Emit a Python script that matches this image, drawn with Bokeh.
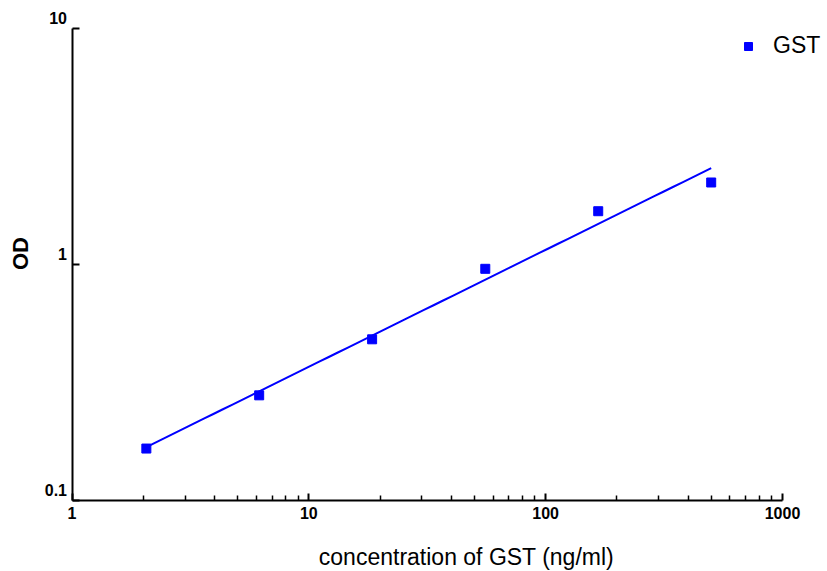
import numpy as np
from bokeh.plotting import figure
from bokeh.models import (FixedTicker, Legend, LegendItem, Label, LabelSet,
                          ColumnDataSource, Range1d, BasicTickFormatter)
from bokeh.embed import file_html
from bokeh.resources import INLINE
from bokeh.core.properties import value

# ---- data ----
conc = [2.06, 6.17, 18.5, 55.6, 166.7, 500.0]
od = [0.166, 0.279, 0.482, 0.959, 1.682, 2.226]
x_ticks = [1, 10, 100, 1000]
x_tick_labels = ["1", "10", "100", "1000"]
y_ticks = [0.1, 1, 10]
y_tick_labels = ["0.1", "1", "10"]
series_name = "GST"
x_title = "concentration of GST (ng/ml)"
y_title = "OD"

FONT = "Liberation Sans"
BLUE = "#0000ff"

# the frame fills the canvas; the axes sit at fixed data locations
p = figure(width=827, height=571, x_axis_type="log", y_axis_type="log",
           x_range=Range1d(0.4989, 1549.0),
           y_range=Range1d(0.05002, 13.144),
           output_backend="svg", toolbar_location=None,
           min_border_left=0, min_border_right=0,
           min_border_top=0, min_border_bottom=0)
p.xgrid.visible = False
p.ygrid.visible = False
p.outline_line_color = None
p.background_fill_color = "white"
p.border_fill_color = "white"

x_minor = [m * t for t in x_ticks[:-1] for m in range(2, 10)]
p.xaxis.ticker = FixedTicker(ticks=x_ticks, minor_ticks=x_minor)
p.xaxis.formatter = BasicTickFormatter()
p.xaxis.major_label_overrides = {t: s for t, s in zip(x_ticks, x_tick_labels)}
p.xaxis.fixed_location = y_ticks[0]
p.xaxis.bounds = (x_ticks[0], x_ticks[-1])

p.yaxis.ticker = FixedTicker(ticks=y_ticks, minor_ticks=[])
p.yaxis.major_label_overrides = {t: "" for t in y_ticks}
p.yaxis.fixed_location = x_ticks[0]
p.yaxis.bounds = (y_ticks[0], y_ticks[-1])

for ax in (p.xaxis, p.yaxis):
    ax.axis_line_width = 2
    ax.axis_line_color = "black"
    ax.major_tick_line_width = 2
    ax.major_tick_line_color = "black"
    ax.minor_tick_line_width = 1.5
    ax.minor_tick_line_color = "black"
    ax.major_tick_in = 7
    ax.major_tick_out = 0
    ax.minor_tick_in = 5
    ax.minor_tick_out = 0
    ax.major_label_text_font = FONT
    ax.major_label_text_font_style = "bold"
    ax.major_label_text_font_size = "16px"
    ax.major_label_text_color = "black"
p.xaxis.major_label_standoff = 6

# y tick labels sit just above their ticks
ysrc = ColumnDataSource(dict(x=[x_ticks[0]] * len(y_ticks), y=y_ticks, text=y_tick_labels))
p.add_layout(LabelSet(x="x", y="y", text="text", source=ysrc, x_offset=-5, y_offset=11,
                      text_align="right", text_baseline="middle",
                      text_font=value(FONT), text_font_style="bold",
                      text_font_size="16px", text_color="black"))

# log-log linear fit
lx = np.log10(conc)
ly = np.log10(od)
slope, intercept = np.polyfit(lx, ly, 1)
fx = np.logspace(lx[0], lx[-1], 60)
fy = 10 ** (intercept + slope * np.log10(fx))
p.line(fx, fy, line_color=BLUE, line_width=2)

pts = p.scatter(conc, od, marker="square", size=9, fill_color=BLUE, line_color=BLUE)

legend = Legend(items=[LegendItem(label=series_name, renderers=[pts])],
                location=(738, 512), padding=0, margin=0, spacing=0,
                border_line_color=None, background_fill_alpha=0,
                label_text_font=FONT, label_text_font_size="23px",
                label_text_color="black",
                label_standoff=15, glyph_width=20, glyph_height=26, label_height=26)
p.add_layout(legend)

x_title_pos = 46.3
p.add_layout(Label(x=x_title_pos, y=y_ticks[0], y_offset=-56, text=x_title,
                   text_align="center", text_baseline="middle",
                   text_font=FONT, text_font_size="23px", text_color="black"))
p.add_layout(Label(x=x_ticks[0], y=1, x_offset=-52, y_offset=11, text=y_title,
                   angle=np.pi / 2, text_align="center", text_baseline="middle",
                   text_font=FONT, text_font_style="bold",
                   text_font_size="22px", text_color="black"))

open("out.html", "w").write(file_html(p, INLINE))
